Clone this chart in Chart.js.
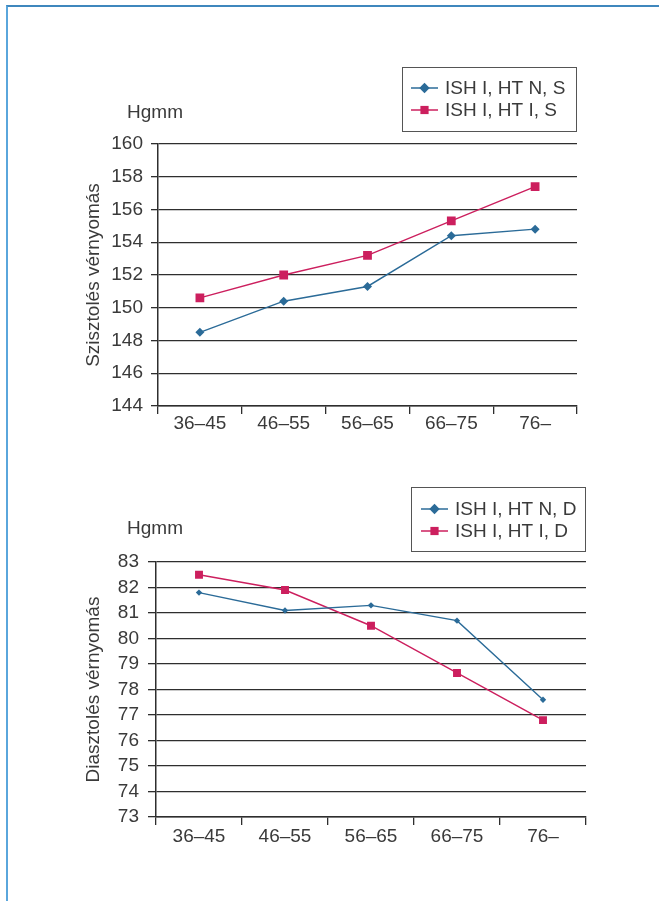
<!DOCTYPE html>
<html>
<head>
<meta charset="utf-8">
<script src="https://cdn.jsdelivr.net/npm/chart.js@4/dist/chart.umd.min.js"></script>
<style>
  html, body { margin: 0; padding: 0; background: #fff; }
  body { width: 659px; height: 901px; position: relative; overflow: hidden; }
  #frame { position: absolute; left: 6px; top: 5px; width: 660px; height: 900px;
           border-left: 2px solid #5aa6dc; border-top: 2px solid #3f87bd; box-sizing: border-box; }
  canvas { position: absolute; left: 0; }
  #c1 { top: 0; }
  #c2 { top: 450px; }
</style>
</head>
<body>
<div id="frame"></div>
<canvas id="c1" width="659" height="450" style="width:659px;height:450px"></canvas>
<canvas id="c2" width="659" height="451" style="width:659px;height:451px"></canvas>
<script>
// ---- data ----
const categories = ['36–45', '46–55', '56–65', '66–75', '76–'];
const systolicHTN = [148.5, 150.4, 151.3, 154.4, 154.8];
const systolicHTI = [150.6, 152.0, 153.2, 155.3, 157.4];
const diastolicHTN = [81.8, 81.1, 81.3, 80.7, 77.6];
const diastolicHTI = [82.5, 81.9, 80.5, 78.65, 76.8];
const labelsTop = ['ISH I, HT N, S', 'ISH I, HT I, S'];
const labelsBottom = ['ISH I, HT N, D', 'ISH I, HT I, D'];
const unitLabel = 'Hgmm';
const titleTop = 'Szisztolés vérnyomás';
const titleBottom = 'Diasztolés vérnyomás';

const BLUE = '#2b6b98';
const RED = '#cc1f5e';
const INK = '#3a3a3a';
const GRID = '#2e2e2e';
const FONT = "'Liberation Sans', Arial, sans-serif";

function drawMarker(ctx, style, x, y, r, color) {
  ctx.save();
  ctx.fillStyle = color;
  ctx.beginPath();
  if (style === 'rectRot') {
    ctx.moveTo(x - r, y); ctx.lineTo(x, y - r); ctx.lineTo(x + r, y); ctx.lineTo(x, y + r);
    ctx.closePath();
  } else {
    const s = r * Math.SQRT1_2;
    ctx.rect(x - s, y - s, 2 * s, 2 * s);
  }
  ctx.fill();
  ctx.restore();
}

const extras = {
  id: 'extras',
  afterDraw(chart, args, o) {
    const ctx = chart.ctx;
    ctx.save();
    ctx.fillStyle = INK;
    ctx.font = '19px ' + FONT;
    ctx.textAlign = 'center';
    ctx.textBaseline = 'middle';
    ctx.fillText(o.unit, o.unitX, o.unitY);
    ctx.strokeStyle = '#555';
    ctx.lineWidth = 1;
    ctx.strokeRect(o.box[0] + 0.5, o.box[1] + 0.5, o.box[2] - o.box[0], o.box[3] - o.box[1]);
    chart.data.datasets.forEach((ds, i) => {
      const y = o.rows[i];
      ctx.strokeStyle = ds.borderColor;
      ctx.lineWidth = 1.5;
      ctx.beginPath();
      ctx.moveTo(o.lineX0, y); ctx.lineTo(o.lineX1, y);
      ctx.stroke();
      drawMarker(ctx, ds.pointStyle, (o.lineX0 + o.lineX1) / 2, y, o.legendR[i], ds.borderColor);
      ctx.fillStyle = INK;
      ctx.textAlign = 'left';
      ctx.textBaseline = 'middle';
      ctx.font = '19px ' + FONT;
      ctx.fillText(ds.label, o.textX, y + 1);
    });
    ctx.restore();
  }
};

function makeChart(id, cfg) {
  return new Chart(document.getElementById(id), {
    type: 'line',
    data: {
      labels: categories,
      datasets: [
        { label: cfg.labels[0], data: cfg.series[0], borderColor: BLUE, backgroundColor: BLUE,
          borderWidth: 1.4, pointStyle: 'rectRot', pointRadius: cfg.r[0], pointBorderWidth: 0, tension: 0 },
        { label: cfg.labels[1], data: cfg.series[1], borderColor: RED, backgroundColor: RED,
          borderWidth: 1.4, pointStyle: 'rect', pointRadius: cfg.r[1], pointBorderWidth: 0, tension: 0 }
      ]
    },
    options: {
      responsive: false,
      animation: false,
      layout: { padding: cfg.padding },
      plugins: {
        legend: { display: false },
        tooltip: { enabled: false },
        extras: cfg.extras
      },
      scales: {
        x: {
          offset: true,
          afterFit: s => { s.height = cfg.xHeight; },
          grid: { offset: true, drawOnChartArea: false, drawTicks: true, tickLength: 8, color: GRID, lineWidth: 1.3 },
          border: { display: true, color: GRID, width: 1.5 },
          ticks: { color: INK, font: { family: FONT, size: 19, lineHeight: 1 }, padding: cfg.xPad, maxRotation: 0, autoSkip: false }
        },
        y: {
          min: cfg.min, max: cfg.max,
          afterFit: s => { s.width = cfg.yWidth; },
          grid: { color: GRID, lineWidth: 1.3, drawTicks: true, tickLength: cfg.tickLen },
          border: { display: true, color: GRID, width: 1.5 },
          ticks: { stepSize: cfg.step, autoSkip: false, color: INK, font: { family: FONT, size: 19 }, padding: cfg.yPad },
          title: { display: true, text: cfg.title, color: INK, font: { family: FONT, size: 19, lineHeight: 1.2 },
                   padding: { top: 82, bottom: 0 } }
        }
      }
    },
    plugins: [extras]
  });
}

makeChart('c1', {
  labels: labelsTop, series: [systolicHTN, systolicHTI], r: [4.5, 6.2],
  padding: { top: 144, right: 82, left: 0, bottom: 0 },
  xHeight: 44, yWidth: 158, min: 144, max: 160, step: 2, tickLen: 7, yPad: 8, xPad: 0,
  title: titleTop,
  extras: { unit: unitLabel, unitX: 155, unitY: 113,
            box: [402, 67, 576, 131], rows: [88, 110], lineX0: 411, lineX1: 438, textX: 445, legendR: [5.2, 5.8] }
});

makeChart('c2', {
  labels: labelsBottom, series: [diastolicHTN, diastolicHTI], r: [3.2, 5.6],
  padding: { top: 112, right: 73, left: 0, bottom: 0 },
  xHeight: 84, yWidth: 156, min: 73, max: 83, step: 1, tickLen: 8, yPad: 9, xPad: 2,
  title: titleBottom,
  extras: { unit: unitLabel, unitX: 155, unitY: 79,
            box: [411, 37, 585, 101], rows: [59, 81], lineX0: 421, lineX1: 448, textX: 455, legendR: [5.2, 5.8] }
});
</script>
</body>
</html>
